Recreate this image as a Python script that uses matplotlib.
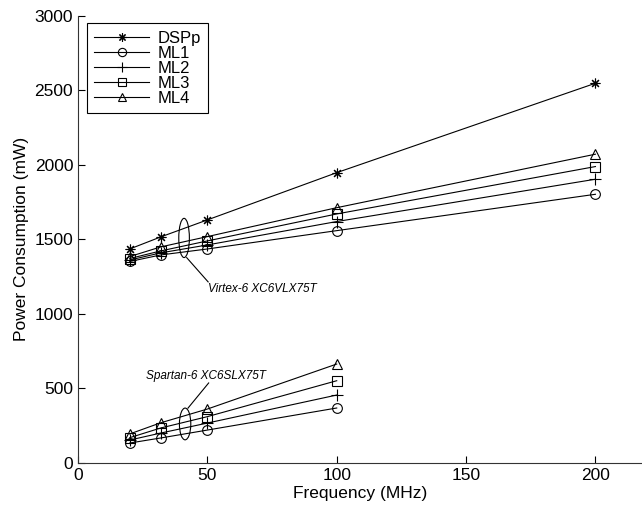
import matplotlib
matplotlib.use("Agg")
import matplotlib.pyplot as plt
from matplotlib.patches import Ellipse
from matplotlib import font_manager

plt.rcParams['font.family'] = ['Liberation Sans', 'DejaVu Sans']

_names = {f.name for f in font_manager.fontManager.ttflist}
narrow = 'Liberation Sans Narrow' if 'Liberation Sans Narrow' in _names else 'Liberation Sans'
ann_size = 10.5 if narrow == 'Liberation Sans Narrow' else 8.5

# Data
freq_virtex = [20, 32, 50, 100, 200]
freq_spartan = [20, 32, 50, 100]

virtex_dspp = [1436, 1517, 1631, 1948, 2548]
virtex_ml1 = [1352, 1396, 1436, 1559, 1803]
virtex_ml2 = [1362, 1410, 1463, 1620, 1904]
virtex_ml3 = [1372, 1423, 1490, 1671, 1989]
virtex_ml4 = [1385, 1450, 1519, 1713, 2072]

spartan_ml1 = [134, 168, 221, 369]
spartan_ml2 = [154, 201, 268, 456]
spartan_ml3 = [170, 235, 311, 552]
spartan_ml4 = [195, 270, 362, 664]

series_labels = ['DSPp', 'ML1', 'ML2', 'ML3', 'ML4']
xticks = [0, 50, 100, 150, 200]
yticks = [0, 500, 1000, 1500, 2000, 2500, 3000]

fig = plt.figure(figsize=(6.42, 5.12), dpi=100)
ax = fig.add_axes([0.1215, 0.0957, 0.8785, 0.8733])

asterisk = (8, 2, 0)
kw = dict(color='black', linewidth=0.8, markersize=7, markerfacecolor='none',
          markeredgecolor='black', markeredgewidth=0.8)

l0, = ax.plot(freq_virtex, virtex_dspp, marker=asterisk, **kw)
l1, = ax.plot(freq_virtex, virtex_ml1, marker='o', **kw)
l2, = ax.plot(freq_virtex, virtex_ml2, marker='+', **dict(kw, markersize=8))
l3, = ax.plot(freq_virtex, virtex_ml3, marker='s', **dict(kw, markersize=6.5))
l4, = ax.plot(freq_virtex, virtex_ml4, marker='^', **dict(kw, markersize=7.5))

ax.plot(freq_spartan, spartan_ml1, marker='o', **kw)
ax.plot(freq_spartan, spartan_ml2, marker='+', **dict(kw, markersize=8))
ax.plot(freq_spartan, spartan_ml3, marker='s', **dict(kw, markersize=6.5))
ax.plot(freq_spartan, spartan_ml4, marker='^', **dict(kw, markersize=7.5))

# Annotations
ax.add_patch(Ellipse((41, 1510), 4.1, 263, fill=False, edgecolor='black', linewidth=0.8))
ax.plot([42, 50.3], [1378, 1215], color='black', linewidth=0.8)
ax.text(50.3, 1170, 'Virtex-6 XC6VLX75T', fontsize=ann_size, style='italic',
        family=[narrow, 'DejaVu Sans'], ha='left', va='center')

ax.add_patch(Ellipse((41.4, 262), 4.4, 213, fill=False, edgecolor='black', linewidth=0.8))
ax.plot([42.5, 50.5], [368, 537], color='black', linewidth=0.8)
ax.text(49.5, 585, 'Spartan-6 XC6SLX75T', fontsize=ann_size, style='italic',
        family=[narrow, 'DejaVu Sans'], ha='center', va='center')

ax.set_xlim(0, 218)
ax.set_ylim(0, 3000)
ax.set_xticks(xticks)
ax.set_yticks(yticks)
ax.tick_params(direction='in', length=5, width=0.8, labelsize=12.5, colors='black')
for s in ['top', 'right']:
    ax.spines[s].set_visible(False)
for s in ['left', 'bottom']:
    ax.spines[s].set_linewidth(0.8)
    ax.spines[s].set_color('#333333')

ax.set_xlabel('Frequency (MHz)', fontsize=12.5, labelpad=2)
ax.set_ylabel('Power Consumption (mW)', fontsize=12.5, labelpad=4)

leg = ax.legend([l0, l1, l2, l3, l4], series_labels, loc='upper left',
                bbox_to_anchor=(0.0154, 0.984), borderaxespad=0, fontsize=12,
                handlelength=3.3, handletextpad=0.5, labelspacing=0.0,
                borderpad=0.45, fancybox=False, framealpha=1, edgecolor='black',
                markerscale=0.85)
leg.get_frame().set_linewidth(0.8)

fig.savefig('out.png', dpi=100)
